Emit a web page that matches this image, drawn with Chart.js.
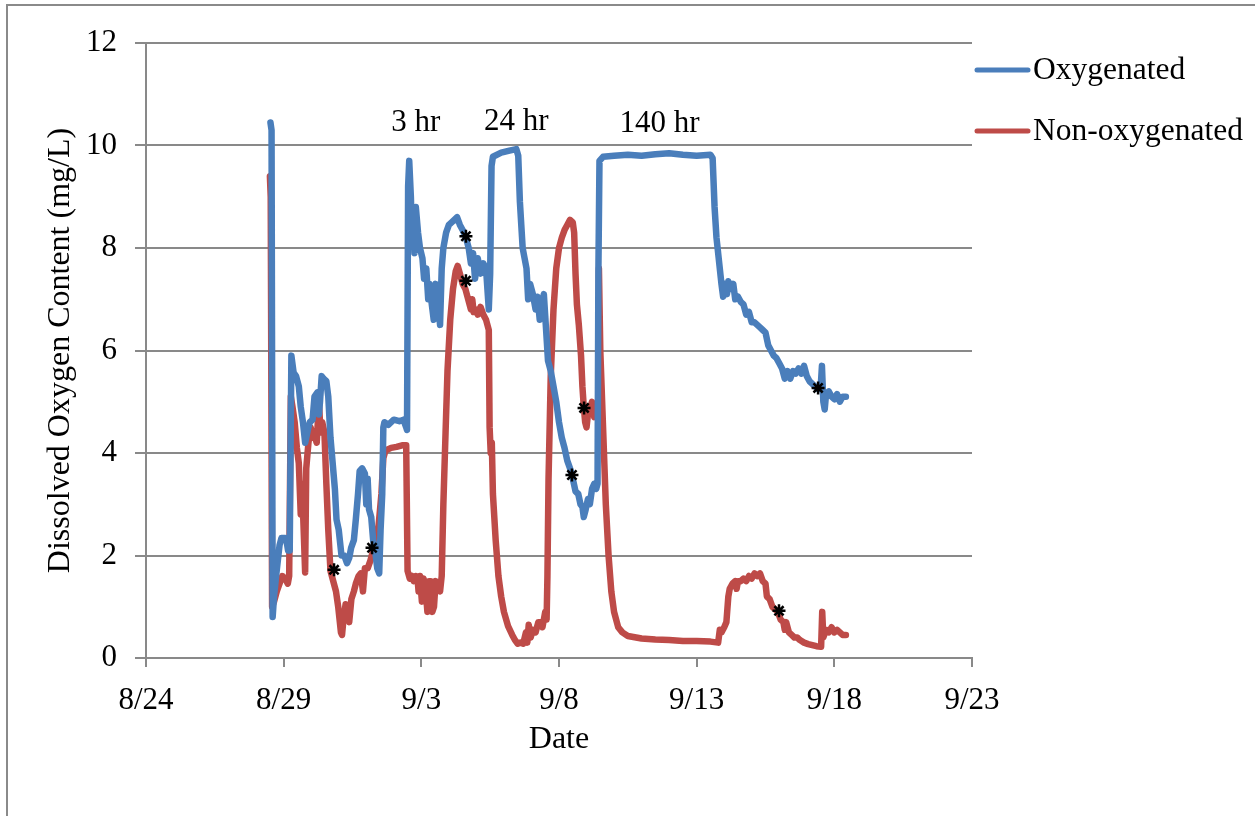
<!DOCTYPE html>
<html>
<head>
<meta charset="utf-8">
<script src="https://cdn.jsdelivr.net/npm/chart.js@4/dist/chart.umd.min.js"></script>
<style>
  html, body { margin: 0; padding: 0; background: #ffffff; }
  #wrap { width: 1255px; height: 816px; }
</style>
</head>
<body>
<div id="wrap"><canvas id="c" width="1255" height="816"></canvas></div>
<script>
// ---- Data (x = days after 8/24) ----
const tickLabels = ['8/24', '8/29', '9/3', '9/8', '9/13', '9/18', '9/23'];
const seriesNames = ['Oxygenated', 'Non-oxygenated'];

const oxyDays = [4.52,4.56,4.60,4.65,4.74,4.85,4.92,5.05,5.1,5.16,5.22,5.28,5.36,5.45,5.55,5.62,5.7,5.78,5.82,5.9,5.95,6.05,6.12,6.22,6.28,6.32,6.38,6.45,6.55,6.62,6.7,6.78,6.86,6.92,7.0,7.1,7.2,7.3,7.38,7.45,7.55,7.62,7.7,7.76,7.85,7.95,8.0,8.05,8.1,8.18,8.25,8.32,8.4,8.47,8.52,8.58,8.62,8.66,8.8,9.0,9.2,9.35,9.45,9.48,9.52,9.56,9.62,9.66,9.7,9.75,9.8,9.88,9.95,10.04,10.1,10.18,10.25,10.3,10.38,10.45,10.52,10.6,10.68,10.74,10.8,10.9,11.0,11.1,11.3,11.4,11.5,11.62,11.72,11.8,11.88,11.95,12.05,12.15,12.25,12.35,12.45,12.5,12.55,12.6,12.9,13.2,13.45,13.52,13.58,13.68,13.75,13.82,13.88,13.95,14.05,14.15,14.22,14.3,14.38,14.45,14.52,14.6,14.7,14.8,14.9,15.0,15.1,15.2,15.3,15.4,15.5,15.6,15.7,15.78,15.85,15.9,15.97,16.05,16.12,16.2,16.28,16.35,16.4,16.43,16.47,16.6,17.0,17.5,18.0,18.5,19.0,19.5,20.0,20.5,20.58,20.65,20.72,20.8,20.9,20.96,21.02,21.1,21.15,21.25,21.33,21.4,21.5,21.6,21.7,21.8,21.9,22.0,22.1,22.2,22.3,22.4,22.5,22.6,22.7,22.8,22.9,23.0,23.1,23.2,23.3,23.4,23.5,23.6,23.7,23.8,23.9,24.0,24.1,24.2,24.3,24.4,24.5,24.55,24.6,24.65,24.7,24.8,24.9,25.0,25.1,25.2,25.3,25.42];
const oxyValues = [10.45,10.3,0.8,1.2,1.67,2.2,2.34,2.34,2.3,2.1,2.1,5.9,5.57,5.5,5.3,4.9,4.6,4.2,4.3,4.5,4.6,4.65,5.1,5.18,4.75,5.0,5.5,5.45,5.4,5.1,4.3,3.8,3.3,2.7,2.5,2.0,2.0,1.85,1.95,2.15,2.3,2.7,3.2,3.65,3.7,3.6,3.0,3.5,2.9,2.75,2.3,2.1,1.75,1.65,2.5,3.2,4.5,4.6,4.55,4.65,4.62,4.65,4.5,4.45,9.2,9.7,9.0,8.2,8.8,7.9,8.8,8.3,8.0,7.8,7.4,7.6,7.0,7.3,6.9,6.6,7.3,7.0,6.5,7.6,8.0,8.3,8.45,8.5,8.6,8.45,8.35,8.2,8.0,7.7,7.9,7.4,7.8,7.5,7.7,7.6,6.8,7.5,9.6,9.78,9.86,9.9,9.93,9.8,8.9,8.0,7.8,7.6,7.0,7.3,7.1,6.8,7.05,6.6,6.9,7.1,6.5,5.8,5.6,5.3,5.0,4.6,4.3,4.1,3.85,3.7,3.5,3.25,3.2,3.0,2.95,2.75,2.9,3.1,3.0,3.3,3.4,3.3,3.4,7.5,9.7,9.78,9.8,9.82,9.8,9.83,9.85,9.82,9.8,9.82,9.75,8.8,8.2,7.8,7.3,7.05,7.3,7.1,7.35,7.2,7.3,7.0,7.05,6.95,6.9,6.7,6.75,6.55,6.55,6.5,6.45,6.4,6.35,6.1,6.0,5.9,5.85,5.75,5.65,5.45,5.6,5.45,5.6,5.55,5.65,5.55,5.7,5.5,5.4,5.35,5.3,5.25,5.25,5.7,5.0,4.85,5.15,5.2,5.1,5.05,5.15,5.0,5.1,5.1];

const nonOxyDays = [4.5,4.53,4.58,4.65,4.75,4.85,4.95,5.05,5.15,5.2,5.26,5.32,5.4,5.48,5.55,5.62,5.67,5.72,5.78,5.82,5.9,5.98,6.06,6.14,6.2,6.28,6.34,6.4,6.48,6.55,6.62,6.7,6.8,6.9,6.98,7.08,7.12,7.18,7.25,7.3,7.38,7.46,7.55,7.62,7.72,7.8,7.88,7.95,8.05,8.15,8.25,8.35,8.45,8.55,8.62,8.7,8.9,9.1,9.3,9.45,9.5,9.58,9.66,9.72,9.8,9.86,9.9,9.95,10.02,10.08,10.15,10.22,10.28,10.34,10.4,10.46,10.52,10.6,10.68,10.74,10.8,10.88,10.95,11.05,11.15,11.25,11.32,11.4,11.5,11.6,11.7,11.8,11.85,11.9,11.97,12.05,12.15,12.25,12.35,12.45,12.48,12.52,12.56,12.6,12.7,12.8,12.9,13.0,13.15,13.3,13.4,13.5,13.6,13.7,13.8,13.85,13.9,13.97,14.05,14.15,14.25,14.33,14.4,14.5,14.55,14.58,14.62,14.7,14.8,14.9,15.0,15.1,15.2,15.3,15.4,15.5,15.55,15.6,15.65,15.72,15.8,15.85,15.9,15.95,16.0,16.05,16.12,16.2,16.28,16.35,16.42,16.45,16.5,16.6,16.7,16.8,16.9,17.0,17.15,17.3,17.5,18.0,18.5,19.0,19.5,20.0,20.5,20.78,20.84,20.9,21.0,21.08,21.15,21.2,21.3,21.4,21.45,21.5,21.6,21.7,21.8,21.9,22.0,22.1,22.2,22.3,22.4,22.5,22.55,22.65,22.75,22.85,22.95,23.05,23.15,23.2,23.25,23.35,23.45,23.55,23.65,23.75,23.9,24.05,24.2,24.35,24.52,24.56,24.6,24.7,24.8,24.9,25.0,25.1,25.2,25.3,25.42];
const nonOxyValues = [9.4,9.0,1.0,1.1,1.3,1.45,1.6,1.55,1.45,1.6,5.1,4.9,4.6,4.1,3.8,2.8,3.4,2.6,1.67,3.7,4.2,4.5,4.3,4.3,4.2,5.0,4.4,4.6,4.4,3.4,2.5,1.7,1.5,1.3,1.0,0.5,0.45,0.8,1.05,0.9,0.7,1.15,1.3,1.45,1.6,1.65,1.3,1.75,1.75,1.9,2.1,2.3,2.6,3.2,3.9,4.05,4.1,4.12,4.15,4.15,1.7,1.55,1.6,1.5,1.6,1.55,1.3,1.6,1.1,1.55,1.4,0.9,1.5,1.5,0.9,1.0,1.5,1.45,1.3,1.6,3.0,4.4,5.6,6.6,7.2,7.55,7.65,7.5,7.3,7.2,7.0,6.8,7.0,6.75,6.8,6.7,6.85,6.7,6.6,6.4,4.5,4.0,4.2,3.2,2.3,1.6,1.2,0.9,0.62,0.45,0.35,0.28,0.3,0.28,0.5,0.3,0.65,0.4,0.55,0.5,0.7,0.7,0.6,0.9,0.75,1.6,3.5,5.5,6.8,7.6,8.0,8.2,8.35,8.45,8.55,8.5,8.3,7.5,6.9,6.5,5.9,5.3,4.9,4.6,4.5,4.75,4.85,5.0,4.7,4.85,4.65,7.6,6.0,4.5,3.0,2.0,1.3,0.9,0.6,0.5,0.43,0.38,0.36,0.35,0.33,0.33,0.32,0.3,0.55,0.5,0.6,0.7,1.2,1.35,1.45,1.5,1.35,1.5,1.5,1.55,1.5,1.6,1.55,1.65,1.6,1.65,1.5,1.45,1.2,1.15,1.0,0.95,0.9,0.75,0.7,0.55,0.7,0.5,0.45,0.4,0.4,0.35,0.3,0.27,0.25,0.23,0.22,0.9,0.4,0.55,0.5,0.6,0.5,0.55,0.5,0.45,0.45];

// asterisk markers
const markerDays = [6.83, 8.21, 11.62, 11.62, 15.47, 15.91, 22.99, 24.41];
const markerValues = [1.72, 2.15, 8.23, 7.36, 3.57, 4.88, 0.92, 5.27];

// duration labels
const noteLabels = ['3 hr', '24 hr', '140 hr'];
const noteDays = [9.8, 13.45, 18.65];
const noteValues = [10.45, 10.47, 10.43];

const BLUE = '#4a7ebb';
const RED = '#be4b48';
const GRID = '#898989';
const FONT = '"Liberation Serif", "Times New Roman", serif';

function toPoints(xs, ys) { return xs.map((x, i) => ({ x: x, y: ys[i] })); }

const framePlugin = {
  id: 'frame',
  beforeDraw(chart) {
    const c = chart.ctx;
    c.save();
    c.fillStyle = '#ffffff';
    c.fillRect(0, 0, chart.width, chart.height);
    c.strokeStyle = '#8a8a8a';
    c.lineWidth = 2;
    c.beginPath();
    c.moveTo(7, chart.height + 2);
    c.lineTo(7, 5);
    c.lineTo(chart.width + 2, 5);
    c.stroke();
    c.restore();
  }
};

const notesPlugin = {
  id: 'notes',
  afterDatasetsDraw(chart) {
    const c = chart.ctx;
    const xs = chart.scales.x, ys = chart.scales.y;
    c.save();
    c.font = '31px ' + FONT;
    c.fillStyle = '#000000';
    c.textAlign = 'center';
    c.textBaseline = 'middle';
    noteLabels.forEach((t, i) => {
      c.fillText(t, xs.getPixelForValue(noteDays[i]), ys.getPixelForValue(noteValues[i]));
    });
    c.restore();
  }
};

const legendPlugin = {
  id: 'customLegend',
  afterDraw(chart) {
    const c = chart.ctx;
    const a = chart.chartArea;
    const colors = [BLUE, RED];
    const rows = [a.top + 27, a.top + 88];
    c.save();
    c.font = '31.5px ' + FONT;
    c.textAlign = 'left';
    c.textBaseline = 'middle';
    seriesNames.forEach((name, i) => {
      const y = rows[i];
      c.strokeStyle = colors[i];
      c.lineWidth = 5;
      c.lineCap = 'round';
      c.beginPath();
      c.moveTo(a.right + 5, y);
      c.lineTo(a.right + 56, y);
      c.stroke();
      c.fillStyle = '#000000';
      c.fillText(name, a.right + 61, y + 1);
    });
    c.restore();
  }
};

new Chart(document.getElementById('c'), {
  type: 'line',
  data: {
    datasets: [
      {
        label: seriesNames[0],
        data: toPoints(oxyDays, oxyValues),
        borderColor: BLUE, backgroundColor: BLUE,
        borderWidth: 6.5, pointRadius: 0, tension: 0,
        borderJoinStyle: 'round', borderCapStyle: 'round',
        order: 2
      },
      {
        label: seriesNames[1],
        data: toPoints(nonOxyDays, nonOxyValues),
        borderColor: RED, backgroundColor: RED,
        borderWidth: 6.5, pointRadius: 0, tension: 0,
        borderJoinStyle: 'round', borderCapStyle: 'round',
        order: 3
      },
      {
        label: 'markers',
        type: 'scatter',
        data: toPoints(markerDays, markerValues),
        showLine: false,
        pointStyle: 'star',
        pointRadius: 6.5,
        borderColor: '#000000',
        backgroundColor: '#000000',
        borderWidth: 2.5,
        order: 0
      }
    ]
  },
  options: {
    responsive: false,
    animation: false,
    events: [],
    layout: { padding: { left: 0, top: 43, right: 283, bottom: 0 } },
    plugins: { legend: { display: false }, tooltip: { enabled: false } },
    scales: {
      x: {
        type: 'linear', min: 0, max: 30,
        afterFit(s) { s.height = 158; },
        afterBuildTicks(s) { s.ticks = tickLabels.map((t, i) => ({ value: i * 5 })); },
        ticks: {
          callback: (v, i) => tickLabels[i],
          color: '#000000', font: { family: FONT, size: 31 }, padding: 15,
          maxRotation: 0, autoSkip: false
        },
        grid: { drawOnChartArea: false, drawTicks: true, tickLength: 9, color: GRID, lineWidth: 2 },
        border: { color: GRID, width: 2 },
        title: {
          display: true, text: 'Date', color: '#000000',
          font: { family: FONT, size: 32 }, padding: { top: 0, bottom: 57 }
        }
      },
      y: {
        min: 0, max: 12,
        afterFit(s) { s.width = 146; },
        ticks: { stepSize: 2, color: '#000000', font: { family: FONT, size: 31 }, padding: 18 },
        grid: { color: GRID, lineWidth: 2, tickLength: 11 },
        border: { color: GRID, width: 2 },
        title: {
          display: true, text: 'Dissolved Oxygen Content (mg/L)', color: '#000000',
          font: { family: FONT, size: 32 }, padding: { top: 41, bottom: 0 }
        }
      }
    }
  },
  plugins: [framePlugin, notesPlugin, legendPlugin]
});
</script>
</body>
</html>
